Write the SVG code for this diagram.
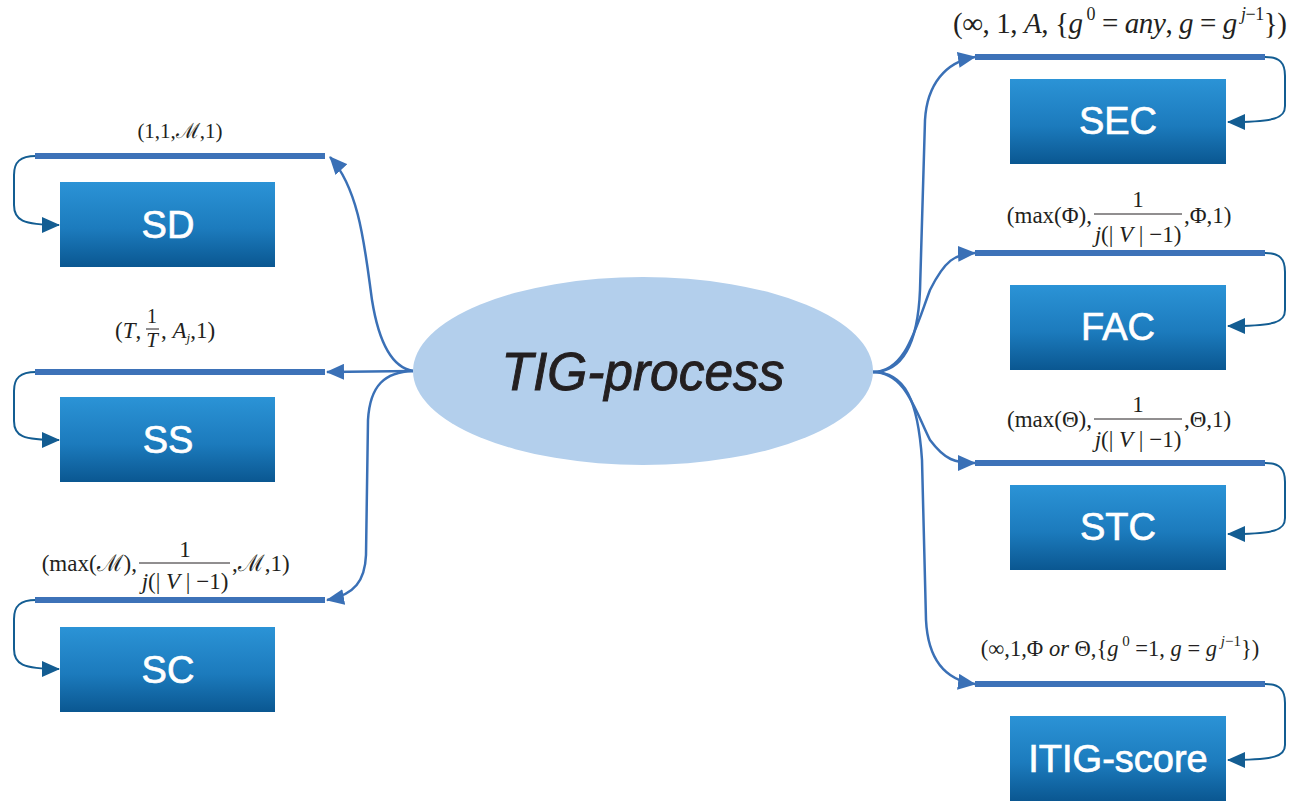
<svg xmlns="http://www.w3.org/2000/svg" width="1293" height="801" viewBox="0 0 1293 801">
<defs>
<linearGradient id="boxg" x1="0" y1="0" x2="0" y2="1">
<stop offset="0" stop-color="#2b93d6"/>
<stop offset="0.55" stop-color="#1c7bbd"/>
<stop offset="1" stop-color="#0a5791"/>
</linearGradient>
<marker id="arr" markerUnits="userSpaceOnUse" markerWidth="18" markerHeight="16" refX="17" refY="8" orient="auto" viewBox="0 0 18 16">
<path d="M0,0 L18,8 L0,16 z" fill="#3a70b6"/>
</marker>
<marker id="arrd" markerUnits="userSpaceOnUse" markerWidth="18" markerHeight="16" refX="17" refY="8" orient="auto" viewBox="0 0 18 16">
<path d="M0,0 L18,8 L0,16 z" fill="#135d92"/>
</marker>
</defs>
<style>
.box{fill:url(#boxg);}
.lbl{font-family:"Liberation Sans",Arial,sans-serif;font-size:38px;fill:#ffffff;stroke:#ffffff;stroke-width:0.7;text-anchor:middle;}
.bar{stroke:#3d72b8;stroke-width:6;fill:none;}
.conn{stroke:#3a70b6;stroke-width:2.5;fill:none;marker-end:url(#arr);}
.loop{stroke:#135d92;stroke-width:2;fill:none;marker-end:url(#arrd);}
.m{font-family:"Liberation Serif","DejaVu Serif",serif;font-size:23px;fill:#231f20;}
.fr{stroke:#231f20;stroke-width:1;}
.i{font-style:italic;}
</style>

<g id="connectors">
<path class="conn" d="M413,371 C395,368 380,350 372,300 C365,250 360,190 330,157"/>
<path class="conn" d="M413,371 L327,372"/>
<path class="conn" d="M413,371 C385,372 370,385 368,420 L366,555 C365,580 355,595 327,600"/>
<path class="conn" d="M873,372 C905,372 918,340 920,290 L925,120 C927,85 945,62 975,57"/>
<path class="conn" d="M873,372 C905,372 915,330 930,290 C945,260 955,254 975,253"/>
<path class="conn" d="M873,372 C905,372 915,410 930,440 C945,460 955,463 975,463"/>
<path class="conn" d="M873,372 C905,372 918,400 922,460 L926,620 C928,660 945,680 975,684"/>
<path class="loop" d="M36,156 C20,156 14,162 14,175 L14,205 C14,220 22,225 59,225"/>
<path class="loop" d="M36,372 C20,372 14,378 14,391 L14,421 C14,436 22,440 59,440"/>
<path class="loop" d="M36,600 C20,600 14,606 14,619 L14,649 C14,664 22,669 59,669"/>
<path class="loop" d="M1265,57 C1280,57 1285,63 1285,76 L1285,106 C1285,118 1276,122 1228,122"/>
<path class="loop" d="M1265,253 C1280,253 1285,259 1285,272 L1285,310 C1285,322 1276,326 1228,326"/>
<path class="loop" d="M1265,463 C1280,463 1285,469 1285,482 L1285,518 C1285,530 1276,534 1228,534"/>
<path class="loop" d="M1265,684 C1280,684 1285,690 1285,703 L1285,745 C1285,756 1276,760 1228,760"/>
</g>

<g id="center">
<ellipse cx="643" cy="371" rx="230" ry="94" fill="#b3cfec"/>
<text x="643" y="390" font-family="'Liberation Sans',Arial,sans-serif" font-size="54" font-style="italic" fill="#231f20" stroke="#231f20" stroke-width="1" text-anchor="middle" textLength="283" lengthAdjust="spacingAndGlyphs">TIG-process</text>
</g>

<g id="SD">
<line class="bar" x1="35" y1="156" x2="325" y2="156"/>
<rect class="box" x="60" y="182" width="215" height="85"/>
<text class="lbl" x="168" y="238">SD</text>
<text class="m" x="180" y="138" text-anchor="middle" style="font-size:21px">(1,1,ℳ,1)</text>
</g>

<g id="SS">
<line class="bar" x1="35" y1="372" x2="325" y2="372"/>
<rect class="box" x="60" y="397" width="215" height="85"/>
<text class="lbl" x="168" y="453">SS</text>
<text class="m" x="115" y="338">(<tspan class="i">T</tspan>,</text>
<text class="m" x="152" y="323" text-anchor="middle" style="font-size:20px">1</text>
<line class="fr" x1="146" y1="329" x2="159" y2="329"/>
<text class="m i" x="152" y="347" text-anchor="middle" style="font-size:21px">T</text>
<text class="m" x="161" y="338">, <tspan class="i">A</tspan><tspan class="i" style="font-size:13px" dy="4">j</tspan><tspan dy="-4">,1)</tspan></text>
</g>

<g id="SC">
<line class="bar" x1="35" y1="600" x2="325" y2="600"/>
<rect class="box" x="60" y="627" width="215" height="85"/>
<text class="lbl" x="168" y="683">SC</text>
<text class="m" x="137" y="571" text-anchor="end">(max(ℳ),</text>
<text class="m" x="185" y="557" text-anchor="middle">1</text>
<line class="fr" x1="139" y1="563" x2="230" y2="563"/>
<text class="m" x="185" y="589" text-anchor="middle"><tspan class="i">j</tspan>(| <tspan class="i">V</tspan> | −1)</text>
<text class="m" x="232" y="571">,ℳ,1)</text>
</g>

<g id="SEC">
<line class="bar" x1="975" y1="57" x2="1265" y2="57"/>
<rect class="box" x="1010" y="79" width="216" height="85"/>
<text class="lbl" x="1118" y="134">SEC</text>
<text class="m" x="953" y="33" style="font-size:29px" textLength="334">(∞, 1, <tspan class="i">A</tspan>, {<tspan class="i">g</tspan><tspan style="font-size:18px" dy="-13"> 0</tspan><tspan dy="13"> = </tspan><tspan class="i">any</tspan>, <tspan class="i">g</tspan> = <tspan class="i">g</tspan><tspan style="font-size:18px" dy="-13"> <tspan class="i">j</tspan>−1</tspan><tspan dy="13">})</tspan></text>
</g>

<g id="FAC">
<line class="bar" x1="975" y1="253" x2="1265" y2="253"/>
<rect class="box" x="1010" y="285" width="216" height="85"/>
<text class="lbl" x="1118" y="340">FAC</text>
<text class="m" x="1092" y="223" text-anchor="end">(max(Φ),</text>
<text class="m" x="1138" y="207" text-anchor="middle">1</text>
<line class="fr" x1="1094" y1="214" x2="1182" y2="214"/>
<text class="m" x="1138" y="242" text-anchor="middle"><tspan class="i">j</tspan>(| <tspan class="i">V</tspan> | −1)</text>
<text class="m" x="1184" y="223">,Φ,1)</text>
</g>

<g id="STC">
<line class="bar" x1="975" y1="463" x2="1265" y2="463"/>
<rect class="box" x="1010" y="485" width="216" height="85"/>
<text class="lbl" x="1118" y="540">STC</text>
<text class="m" x="1092" y="427" text-anchor="end">(max(Θ),</text>
<text class="m" x="1138" y="412" text-anchor="middle">1</text>
<line class="fr" x1="1094" y1="419" x2="1182" y2="419"/>
<text class="m" x="1138" y="447" text-anchor="middle"><tspan class="i">j</tspan>(| <tspan class="i">V</tspan> | −1)</text>
<text class="m" x="1184" y="427">,Θ,1)</text>
</g>

<g id="ITIG-score">
<line class="bar" x1="975" y1="684" x2="1265" y2="684"/>
<rect class="box" x="1010" y="716" width="216" height="85"/>
<text class="lbl" x="1118" y="772">ITIG-score</text>
<text class="m" x="1120" y="656" text-anchor="middle" style="font-size:22.5px">(∞,1,Φ <tspan class="i">or</tspan> Θ,{<tspan class="i">g</tspan><tspan style="font-size:15px" dy="-10"> 0</tspan><tspan dy="10"> =1, </tspan><tspan class="i">g</tspan> = <tspan class="i">g</tspan><tspan style="font-size:15px" dy="-10"> <tspan class="i">j</tspan>−1</tspan><tspan dy="10">})</tspan></text>
</g>
</svg>
